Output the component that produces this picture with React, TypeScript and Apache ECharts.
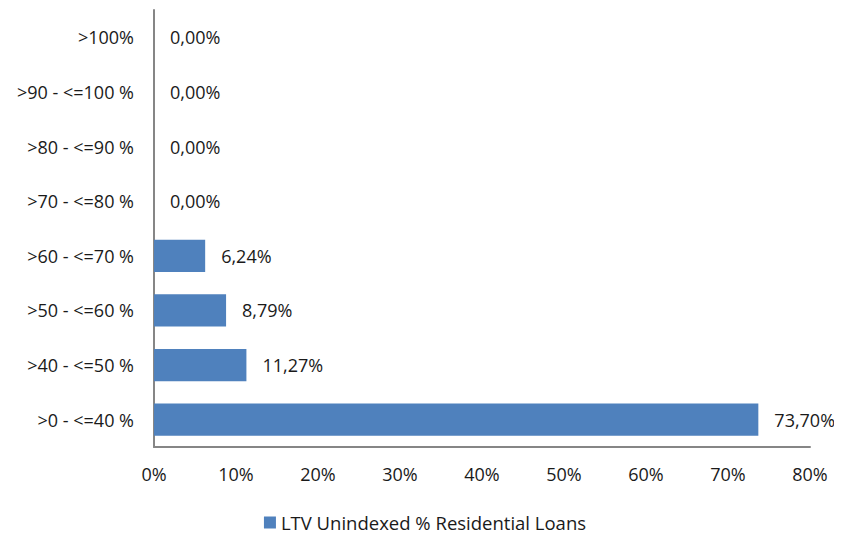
import React, { useEffect, useRef } from "react";
import * as echarts from "echarts";

const categories = [">0 - <=40 %", ">40 - <=50 %", ">50 - <=60 %", ">60 - <=70 %", ">70 - <=80 %", ">80 - <=90 %", ">90 - <=100 %", ">100%"];
const values = [73.7, 11.27, 8.79, 6.24, 0, 0, 0, 0];
const seriesName = "LTV Unindexed % Residential Loans";

export default function App() {
  const ref = useRef<HTMLDivElement>(null);
  useEffect(() => {
    const chart = echarts.init(ref.current!, null, { renderer: "svg" });
    const font = "'Open Sans', 'Noto Sans', sans-serif";
    const fs = 18;
    chart.setOption({
      animation: false,
      textStyle: { fontFamily: font },
      grid: { left: 146, right: 32, top: 2, bottom: 88, containLabel: false },
      legend: {
        top: 500,
        left: "center",
        itemWidth: 12,
        itemHeight: 12,
        itemGap: 5,
        icon: "rect",
        textStyle: { fontSize: 18.5, color: "#1a1a1a", fontFamily: font },
        data: [seriesName],
      },
      xAxis: {
        type: "value",
        min: 0,
        max: 80,
        interval: 10,
        axisLine: { show: true, lineStyle: { color: "#868686", width: 2 } },
        axisTick: { show: false },
        splitLine: { show: false },
        axisLabel: { formatter: "{value}%", fontSize: fs, color: "#1a1a1a", margin: 18, fontFamily: font },
      },
      yAxis: {
        type: "category",
        data: categories,
        axisLine: { show: true, lineStyle: { color: "#868686", width: 2 } },
        axisTick: { show: false },
        axisLabel: { fontSize: fs, color: "#1a1a1a", margin: 20, fontFamily: font },
      },
      series: [
        {
          name: seriesName,
          type: "bar",
          data: values,
          barCategoryGap: "41%",
          itemStyle: { color: "#4F81BD" },
          label: {
            show: true,
            position: "right",
            distance: 16,
            fontSize: fs,
            color: "#1a1a1a",
            fontFamily: font,
            formatter: (p: any) => p.value.toFixed(2).replace(".", ",") + "%",
          },
        },
      ],
    });
    return () => chart.dispose();
  }, []);
  return <div ref={ref} style={{ width: 834, height: 527 }} />;
}
